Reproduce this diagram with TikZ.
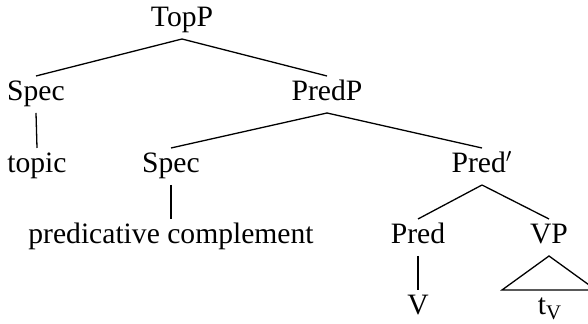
\documentclass[tikz,border=0pt]{standalone}
\usepackage{fontspec}
\setmainfont{Liberation Serif}
\usetikzlibrary{calc}
\tikzset{
  tn/.style={anchor=base, inner sep=0pt, outer sep=0pt, text height=12.5pt, text depth=6pt,
    font=\fontsize{14.8}{17}\selectfont},
  edge/.style={line width=0.65pt}
}
\begin{document}
\begin{tikzpicture}[x=0.5pt, y=-0.5pt]
\useasboundingbox (0,0) rectangle (588,324);
\node[tn] (top) at (182,27) {TopP};
\node[tn] (spec1) at (36,101) {Spec};
\node[tn] (predp) at (327,101) {PredP};
\node[tn] (topic) at (37,173) {topic};
\node[tn] (spec2) at (171,173) {Spec};
\node[tn] (predbar) at (482,173) {Pred$'$};
\node[tn] (pc) at (171,244) {predicative complement};
\node[tn] (pred) at (418,244) {Pred};
\node[tn] (vp) at (549,244) {VP};
\node[tn] (v) at (418,315) {V};
\node[tn] (tv) at (550,315) {t\textsubscript{V}};
\draw[edge] (top.south) -- (spec1.north);
\draw[edge] (top.south) -- (predp.north);
\draw[edge] (spec1.south) -- (topic.north);
\draw[edge] (predp.south) -- (spec2.north);
\draw[edge] (predp.south) -- (predbar.north);
\draw[edge] (spec2.south) -- (pc.north);
\draw[edge] (predbar.south) -- (pred.north);
\draw[edge] (predbar.south) -- (vp.north);
\draw[edge] (pred.south) -- (v.north);
\draw[edge] (vp.south) -- ($(vp.south)+(-47,34)$) -- ($(vp.south)+(47,34)$) -- cycle;
\end{tikzpicture}
\end{document}
